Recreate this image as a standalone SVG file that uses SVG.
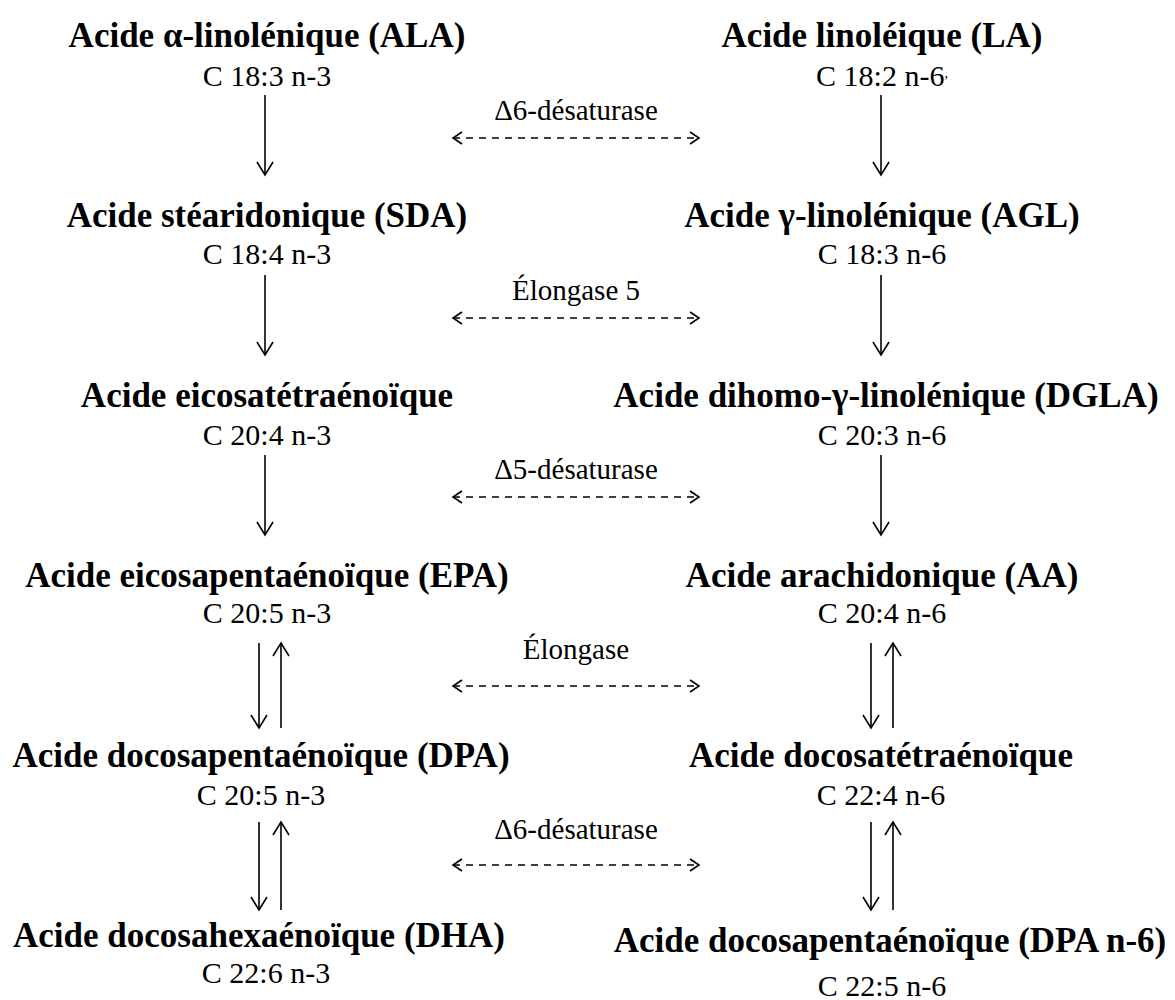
<svg xmlns="http://www.w3.org/2000/svg" width="1175" height="1000" viewBox="0 0 1175 1000">
<style>
.t{font-family:"Liberation Serif","Times New Roman",serif;font-weight:bold;font-size:35px;fill:#000;text-anchor:middle}
.s{font-family:"Liberation Serif","Times New Roman",serif;font-size:30px;fill:#000;text-anchor:middle}
.l{font-family:"Liberation Serif","Times New Roman",serif;font-size:29px;fill:#000;text-anchor:middle}
.a{stroke:#000;stroke-width:1.6;fill:none;marker-end:url(#h)}
.d{stroke:#000;stroke-width:1.5;fill:none;stroke-dasharray:7 6;marker-start:url(#dh);marker-end:url(#dh)}
</style>
<defs>
<marker id="h" markerUnits="userSpaceOnUse" viewBox="-15 -10 17 20" refX="0" refY="0" markerWidth="17" markerHeight="20" orient="auto">
<path d="M-13,-8 L0,0 L-13,8" fill="none" stroke="#000" stroke-width="1.6"/>
</marker>
<marker id="dh" markerUnits="userSpaceOnUse" viewBox="-12 -8 14 16" refX="0" refY="0" markerWidth="14" markerHeight="16" orient="auto-start-reverse">
<path d="M-9,-6 L0,0 L-9,6" fill="none" stroke="#000" stroke-width="1.6"/>
</marker>
</defs>
<g id="ala"><text class="t" x="267" y="47">Acide α-linolénique (ALA)</text><text class="s" x="267" y="86">C 18:3 n-3</text></g>
<g id="sda"><text class="t" x="267" y="227">Acide stéaridonique (SDA)</text><text class="s" x="267" y="264">C 18:4 n-3</text></g>
<g id="eta"><text class="t" x="267" y="407">Acide eicosatétraénoïque</text><text class="s" x="267" y="445">C 20:4 n-3</text></g>
<g id="epa"><text class="t" x="267" y="587">Acide eicosapentaénoïque (EPA)</text><text class="s" x="267" y="623">C 20:5 n-3</text></g>
<g id="dpa"><text class="t" x="261" y="767">Acide docosapentaénoïque (DPA)</text><text class="s" x="261" y="805">C 20:5 n-3</text></g>
<g id="dha"><text class="t" x="259" y="947">Acide docosahexaénoïque (DHA)</text><text class="s" x="266" y="983">C 22:6 n-3</text></g>
<g id="la"><text class="t" x="882" y="47">Acide linoléique (LA)</text><text class="s" x="882" y="86">C 18:2 n-6<tspan font-size="14" dy="-8">,</tspan></text></g>
<g id="agl"><text class="t" x="882" y="227">Acide γ-linolénique (AGL)</text><text class="s" x="882" y="264">C 18:3 n-6</text></g>
<g id="dgla"><text class="t" x="886" y="407">Acide dihomo-γ-linolénique (DGLA)</text><text class="s" x="882" y="445">C 20:3 n-6</text></g>
<g id="aa"><text class="t" x="882" y="587">Acide arachidonique (AA)</text><text class="s" x="882" y="623">C 20:4 n-6</text></g>
<g id="dta"><text class="t" x="881" y="767">Acide docosatétraénoïque</text><text class="s" x="881" y="805">C 22:4 n-6</text></g>
<g id="dpa6"><text class="t" x="890" y="952">Acide docosapentaénoïque (DPA n-6)</text><text class="s" x="882" y="996">C 22:5 n-6</text></g>
<g id="enzymes">
<text class="l" x="576" y="120">Δ6-désaturase</text>
<text class="l" x="576" y="300">Élongase 5</text>
<text class="l" x="576" y="479">Δ5-désaturase</text>
<text class="l" x="576" y="659">Élongase</text>
<text class="l" x="576" y="839">Δ6-désaturase</text>
</g>
<g id="connectors">
<line class="a" x1="265" y1="95" x2="265" y2="175"/>
<line class="a" x1="265" y1="275" x2="265" y2="355"/>
<line class="a" x1="265" y1="455" x2="265" y2="535"/>
<line class="a" x1="259" y1="643" x2="259" y2="728"/>
<line class="a" x1="281" y1="728" x2="281" y2="643"/>
<line class="a" x1="259" y1="822" x2="259" y2="910"/>
<line class="a" x1="281" y1="910" x2="281" y2="822"/>
<line class="a" x1="881" y1="95" x2="881" y2="175"/>
<line class="a" x1="881" y1="275" x2="881" y2="355"/>
<line class="a" x1="881" y1="455" x2="881" y2="535"/>
<line class="a" x1="871" y1="643" x2="871" y2="728"/>
<line class="a" x1="893" y1="728" x2="893" y2="643"/>
<line class="a" x1="871" y1="822" x2="871" y2="910"/>
<line class="a" x1="893" y1="910" x2="893" y2="822"/>
<line class="d" x1="453" y1="138" x2="699" y2="138"/>
<line class="d" x1="453" y1="318" x2="699" y2="318"/>
<line class="d" x1="453" y1="497" x2="699" y2="497"/>
<line class="d" x1="453" y1="686" x2="699" y2="686"/>
<line class="d" x1="453" y1="865" x2="699" y2="865"/>
</g>
</svg>
